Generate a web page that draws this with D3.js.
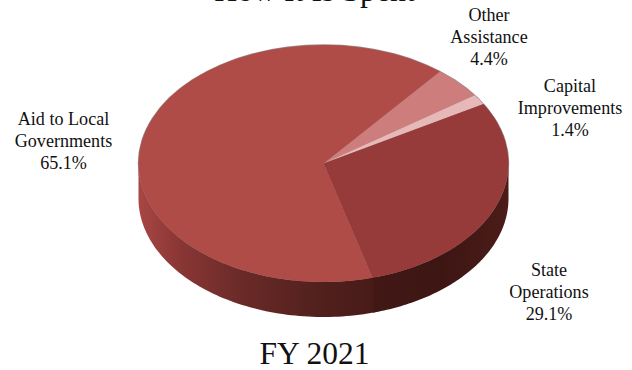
<!DOCTYPE html>
<html>
<head>
<meta charset="utf-8">
<script src="https://cdn.jsdelivr.net/npm/d3@7"></script>
<style>
  html, body { margin: 0; padding: 0; background: #fff; }
  svg { display: block; }
  text { font-family: "Liberation Serif", serif; fill: #111; }
</style>
</head>
<body>
<div id="chart"></div>
<script>
// Budget shares, FY 2021, clockwise from the "Other Assistance" wedge
const categories = ["Other Assistance", "Capital Improvements", "State Operations", "Aid to Local Governments"];
const shares = [4.4, 1.4, 29.1, 65.1];
const topColors = ["#cd7d7c", "#e6b9b8", "#973b3a", "#b04c48"];
const labelLines = [["Other", "Assistance"], ["Capital", "Improvements"], ["State", "Operations"], ["Aid to Local", "Governments"]];
const title = "How It Is Spent";
const subtitle = "FY 2021";

const width = 632, height = 370;
const cx = 323.5, cy = 163.5, rx = 185, ry = 118.5, depth = 35;
const startDeg = 39;

const svg = d3.select("#chart").append("svg")
  .attr("width", width).attr("height", height);

const pie = d3.pie().sort(null).value(d => d)
  .startAngle(startDeg * Math.PI / 180)
  .endAngle((startDeg + 360) * Math.PI / 180);
const slices = pie(shares);

// Top face: a circular pie squashed into the ellipse
const face = d3.create("svg:g")
  .attr("transform", `translate(${cx},${cy}) scale(1,${ry / rx})`);
const arc = d3.arc().innerRadius(0).outerRadius(rx);

// Thin grey halo that shows only along the back edge
svg.append("ellipse").attr("cx", cx).attr("cy", cy)
  .attr("rx", rx + 0.7).attr("ry", ry + 0.7).attr("fill", "#9a8a8a");

// Shaded rim: one horizontal gradient per visible wedge
const defs = svg.append("defs");
const rimStops = {
  2: [[0, "#421815"], [0.5, "#3d1613"], [1, "#4b1c18"]],
  3: [[0, "#a84644"], [0.17, "#8a3735"], [0.45, "#692a27"], [0.75, "#53211e"], [1, "#481b19"]]
};
Object.entries(rimStops).forEach(([i, stops]) => {
  const g = defs.append("linearGradient").attr("id", "rim" + i)
    .attr("gradientUnits", "userSpaceOnUse")
    .attr("x1", i == 3 ? cx - rx : cx + 49).attr("x2", i == 3 ? cx + 49 : cx + rx)
    .attr("y1", 0).attr("y2", 0);
  stops.forEach(([o, c]) => g.append("stop").attr("offset", o).attr("stop-color", c));
});

// Rim band follows the front half of the ellipse, from 90° to 270°
const rim = d3.area()
  .x(a => cx + rx * Math.sin(a))
  .y0(a => cy - ry * Math.cos(a))
  .y1(a => cy - ry * Math.cos(a) + depth);

// The larger wedge goes first and runs slightly under its neighbour, closing the seam
[3, 2].forEach(i => {
  const s = slices[i];
  const overlap = i === 3 ? 0.02 : 0;
  const a0 = Math.max(s.startAngle - overlap, Math.PI / 2);
  const a1 = Math.min(s.endAngle, 3 * Math.PI / 2);
  const n = 80;
  const angles = d3.range(n + 1).map(k => a0 + (a1 - a0) * k / n);
  svg.append("path").attr("d", rim(angles)).attr("fill", `url(#rim${i})`);
});

svg.append(() => face.node());
face.selectAll("path.slice").data(slices).join("path")
  .attr("class", "slice")
  .attr("d", arc)
  .attr("fill", (d, i) => topColors[i]);

// Callouts: name lines followed by the share
const labelPos = [[489, 21], [570, 92], [549, 276], [63.5, 125]];
const lineStep = 21.9;
categories.forEach((c, i) => {
  const t = svg.append("text").attr("text-anchor", "middle").attr("font-size", 18.1);
  [...labelLines[i], shares[i].toFixed(1) + "%"].forEach((line, j) => {
    t.append("tspan").attr("x", labelPos[i][0])
      .attr("y", labelPos[i][1] + j * lineStep).text(line);
  });
});

svg.append("text").attr("x", 314.5).attr("y", 1).attr("text-anchor", "middle")
  .attr("font-size", 31.8).text(title);
svg.append("text").attr("x", 314.5).attr("y", 363.5).attr("text-anchor", "middle")
  .attr("font-size", 31.5).text(subtitle);
</script>
</body>
</html>
